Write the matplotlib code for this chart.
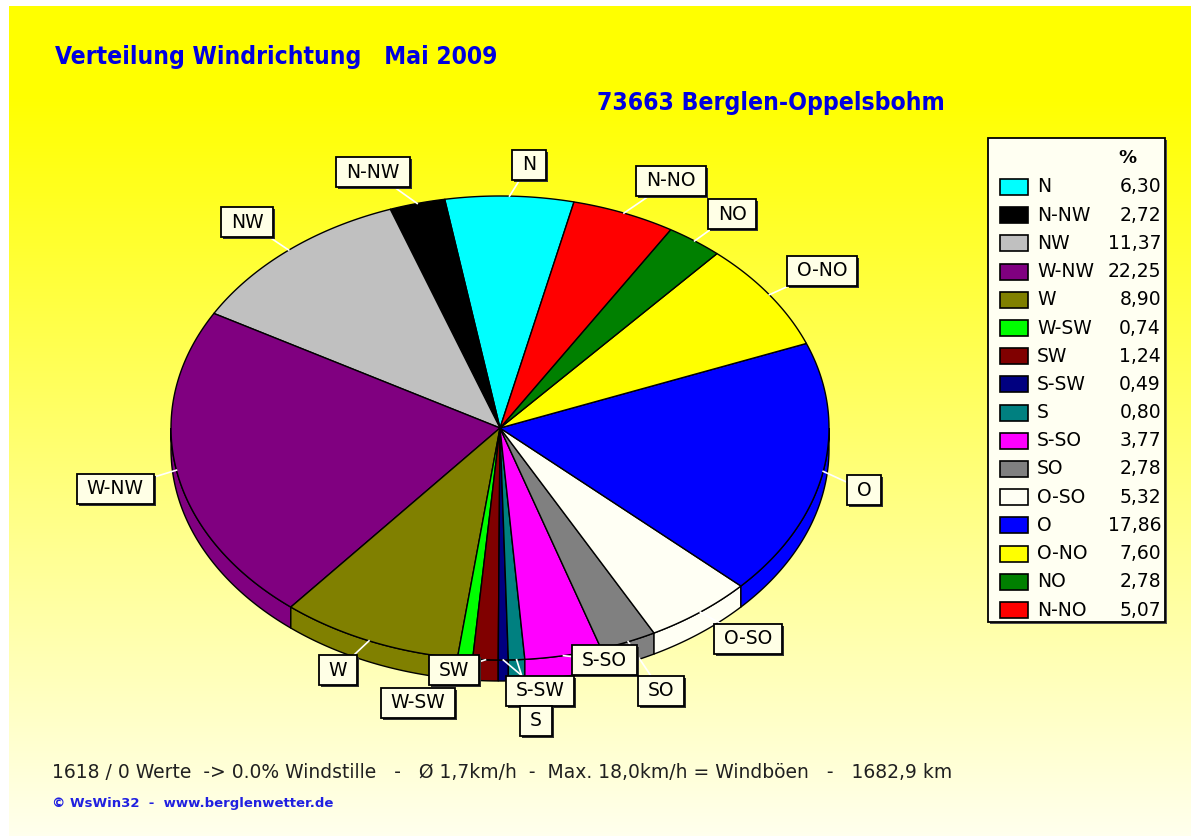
import matplotlib
matplotlib.use('Agg')
import matplotlib.pyplot as plt
import numpy as np
from matplotlib import font_manager
from matplotlib.patches import Polygon, Rectangle

# Windrichtung Mai 2009, Anteile in %
labels = ['N', 'N-NW', 'NW', 'W-NW', 'W', 'W-SW', 'SW', 'S-SW', 'S', 'S-SO',
          'SO', 'O-SO', 'O', 'O-NO', 'NO', 'N-NO']
values = [6.30, 2.72, 11.37, 22.25, 8.90, 0.74, 1.24, 0.49, 0.80, 3.77,
          2.78, 5.32, 17.86, 7.60, 2.78, 5.07]
colors = ['#00FFFF', '#000000', '#C0C0C0', '#800080', '#808000', '#00FF00',
          '#800000', '#000080', '#008080', '#FF00FF', '#808080', '#FFFFF4',
          '#0000FF', '#FFFF00', '#008000', '#FF0000']

title = 'Verteilung Windrichtung   Mai 2009'
station = '73663 Berglen-Oppelsbohm'
info = '1618 / 0 Werte  -> 0.0% Windstille   -   \u00d8 1,7km/h  -  Max. 18,0km/h = Windb\u00f6en   -   1682,9 km'
credit = '\u00a9 WsWin32  -  www.berglenwetter.de'

# label box centres (pixels), placed by hand like the original
label_pos = [(529, 165), (373, 172), (247, 222), (115, 489), (338, 670),
             (418, 703), (454, 670), (540, 691), (536, 721), (604, 660),
             (661, 691), (748, 639), (864, 490), (822, 271), (732, 214),
             (671, 181)]

W, H = 1191, 836
cx, cy, rx, ry, depth = 500, 428, 329, 232, 21
start = 77

fig = plt.figure(figsize=(W / 100, H / 100), dpi=100, facecolor='white')
ax = fig.add_axes([0, 0, 1, 1])
ax.set_xlim(0, W)
ax.set_ylim(H, 0)
ax.axis('off')

# background gradient yellow -> pale
yy = np.linspace(0, 1, 400)
blue = np.clip((yy * H - 90) / (H - 90), 0, 1) * 0.93
grad = np.zeros((400, 2, 3))
grad[:, :, 0] = 1
grad[:, :, 1] = 1
grad[:, :, 2] = blue[:, None]
ax.imshow(grad, extent=(9, W, H, 6), aspect='auto', zorder=0)


def arc(t1, t2, dy=0):
    t = np.radians(np.linspace(t1, t2, max(int(abs(t2 - t1) * 2), 2)))
    return np.column_stack([cx + rx * np.cos(t), cy - ry * np.sin(t) + dy])


vals = np.array(values)
edges = start + 360 * np.concatenate([[0], np.cumsum(vals)]) / vals.sum()

for i in range(len(vals)):
    a1, a2 = edges[i], edges[i + 1]
    # side face (front half only)
    s1, s2 = max(a1, 180), min(a2, 360)
    if s2 > s1:
        side = np.vstack([arc(s1, s2), arc(s2, s1, depth)])
        ax.add_patch(Polygon(side, closed=True, fc=colors[i], ec='black', lw=1, zorder=2))
    top = np.vstack([[cx, cy], arc(a1, a2)])
    ax.add_patch(Polygon(top, closed=True, fc=colors[i], ec='black', lw=1, zorder=3))

# labels with boxes
lab_font = dict(fontsize=13.5, family='DejaVu Sans', color='black')
texts = []
for i, lab in enumerate(labels):
    mid = np.radians((edges[i] + edges[i + 1]) / 2)
    px = cx + rx * np.cos(mid)
    py = cy - ry * np.sin(mid)
    lx, ly = label_pos[i]
    ax.plot([px, lx], [py, ly], color='white', lw=1.2, zorder=3.5)
    t = ax.text(lx, ly, lab, ha='center', va='center', zorder=7, **lab_font)
    texts.append(t)

# titles: condensed bold face if there is one
names = {f.name for f in font_manager.fontManager.ttflist}
has_cond = any(f.name == 'DejaVu Sans' and f.stretch == 'condensed'
               for f in font_manager.fontManager.ttflist)
if 'Liberation Sans Narrow' in names:
    tkw = dict(family='Liberation Sans Narrow')
elif has_cond:
    tkw = dict(family='DejaVu Sans', fontstretch='condensed')
else:
    tkw = dict(family='Liberation Sans')
t_title = ax.text(55, 57, title, ha='left', va='center', fontsize=19, fontweight='bold',
                  color='#0000E0', **tkw)
t_station = ax.text(945, 103, station, ha='right', va='center', fontsize=19,
                    fontweight='bold', color='#0000E0', **tkw)
ax.text(52, 772, info, ha='left', va='center', fontsize=13.5, color='#202020',
        family='DejaVu Sans')
ax.text(52, 804, credit, ha='left', va='center', fontsize=9.5, fontweight='bold',
        color='#2020E0', family='DejaVu Sans')

fig.canvas.draw()
r = fig.canvas.get_renderer()
inv = ax.transData.inverted()

# fit title widths to the original
for t, target in [(t_title, 442), (t_station, 347)]:
    w = t.get_window_extent(r).width
    t.set_fontsize(t.get_fontsize() * target / w)

for i, t in enumerate(texts):
    bb = t.get_window_extent(r)
    (x0, _), (x1, _) = inv.transform([[bb.x0, bb.y0], [bb.x1, bb.y1]])
    w = abs(x1 - x0) + 20
    h = 30
    lx, ly = label_pos[i]
    ax.add_patch(Rectangle((lx - w / 2 + 2, ly - h / 2 + 2), w, h, fc='#303030', ec='none', zorder=5))
    ax.add_patch(Rectangle((lx - w / 2, ly - h / 2), w, h, fc='#FFFFE6', ec='black', lw=1.3, zorder=6))

# legend
lx0, ly0, lw_, lh = 988, 138, 177, 484
ax.add_patch(Rectangle((lx0 + 2, ly0 + 2), lw_, lh, fc='#505050', ec='none', zorder=5))
ax.add_patch(Rectangle((lx0, ly0), lw_, lh, fc='#FFFFF2', ec='black', lw=1.3, zorder=6))
ax.text(1127, 158, '%', ha='center', va='center', fontsize=13, fontweight='bold',
        family='DejaVu Sans', zorder=7)
for i, lab in enumerate(labels):
    y = 187 + 28.2 * i
    ax.add_patch(Rectangle((1000, y - 8), 28, 16, fc=colors[i], ec='black', lw=1.2, zorder=7))
    ax.text(1037, y, lab, ha='left', va='center', zorder=7, **lab_font)
    ax.text(1161, y, f'{values[i]:.2f}'.replace('.', ','), ha='right', va='center',
            zorder=7, **lab_font)

fig.savefig('out.png', dpi=100, facecolor='white')
